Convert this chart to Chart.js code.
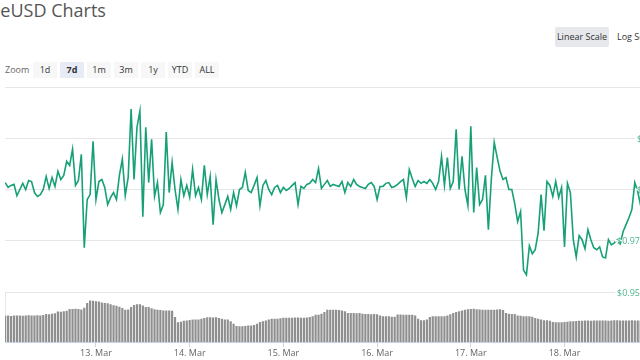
<!DOCTYPE html>
<html lang="en">
<head>
<meta charset="UTF-8">
<title>TrueUSD Charts</title>
<script src="https://cdn.jsdelivr.net/npm/chart.js"></script>
<style>
    body { margin: 0; width: 640px; height: 360px; overflow: hidden; background: #fff; position: relative; font-family: "Open Sans", sans-serif; }
    h1 { position: absolute; left: -28px; top: 1px; margin: 0; font-size: 18px; line-height: 18px; font-weight: 400; color: #555; white-space: nowrap; }
    .scale { position: absolute; top: 27px; height: 20px; line-height: 20px; font-size: 9px; color: #333; white-space: nowrap; }
    #lin { left: 555px; width: 54px; background: #e6e8ec; text-align: center; border-radius: 2px; }
    #log { left: 617px; }
    #zoomLabel { position: absolute; left: 5px; top: 62px; height: 16px; line-height: 16px; font-size: 9px; color: #666; }
    .btn { position: absolute; top: 62px; width: 24px; height: 16px; line-height: 16px; font-size: 9px; color: #333; background: #f7f7f7; text-align: center; }
    .btn.on { background: #e6ebf5; font-weight: 700; }
    #price { position: absolute; left: 0; top: 80px; }
    #vol { position: absolute; left: 0; top: 285px; }
</style>
</head>
<body>
    <h1>TrueUSD Charts</h1>
    <div class="scale" id="lin">Linear Scale</div>
    <div class="scale" id="log">Log Scale</div>
    <div id="zoomLabel">Zoom</div>
    <div id="buttons"></div>
    <canvas id="price" width="700" height="222"></canvas>
    <canvas id="vol" width="700" height="75"></canvas>

<script>
// hours since 13 Mar 00:00, one sample every 45 minutes
const startHour = -23.25;
const stepHours = 0.75;

const priceValues = [
    0.9927, 0.9908, 0.9916, 0.9920, 0.9876, 0.9900, 0.9924, 0.9900, 0.9935, 0.9931,
    0.9888, 0.9873, 0.9880, 0.9900, 0.9951, 0.9904, 0.9947, 0.9912, 0.9971, 0.9939,
    0.9955, 1.0010, 0.9994, 1.0057, 0.9916, 0.9935, 1.0037, 0.9673, 0.9861, 0.9880,
    1.0088, 0.9861, 0.9931, 0.9939, 0.9908, 0.9841, 0.9869, 0.9888, 0.9861, 0.9955,
    1.0018, 0.9876, 0.9947, 1.0214, 0.9939, 1.0143, 1.0206, 0.9794, 1.0143, 0.9927,
    1.0096, 0.9873, 0.9927, 0.9810, 0.9841, 1.0124, 0.9888, 1.0006, 0.9900, 0.9822,
    0.9939, 0.9876, 0.9916, 0.9869, 0.9978, 0.9876, 0.9908, 0.9861, 0.9994, 0.9880,
    0.9951, 0.9763, 0.9939, 0.9861, 0.9810, 0.9841, 0.9873, 0.9822, 0.9888, 0.9837,
    0.9900, 0.9908, 0.9967, 0.9896, 0.9888, 0.9916, 0.9947, 0.9837, 0.9916, 0.9935,
    0.9900, 0.9880, 0.9908, 0.9916, 0.9888, 0.9908, 0.9896, 0.9904, 0.9916, 0.9927,
    0.9841, 0.9912, 0.9904, 0.9920, 0.9924, 0.9939, 0.9927, 0.9982, 0.9904, 0.9920,
    0.9935, 0.9912, 0.9920, 0.9916, 0.9912, 0.9931, 0.9888, 0.9927, 0.9912, 0.9939,
    0.9920, 0.9912, 0.9908, 0.9904, 0.9920, 0.9927, 0.9912, 0.9861, 0.9912, 0.9912,
    0.9924, 0.9927, 0.9908, 0.9912, 0.9920, 0.9931, 0.9939, 0.9869, 0.9978, 0.9943,
    0.9912, 0.9935, 0.9924, 0.9931, 0.9924, 0.9939, 0.9924, 0.9900, 0.9931, 1.0029,
    0.9916, 1.0025, 0.9904, 0.9931, 1.0135, 0.9900, 1.0029, 0.9900, 0.9837, 1.0147,
    0.9810, 0.9986, 0.9841, 0.9861, 0.9955, 0.9743, 0.9939, 1.0084, 1.0025, 0.9971,
    0.9939, 0.9947, 0.9900, 0.9900, 0.9845, 0.9775, 0.9814, 0.9586, 0.9567, 0.9680,
    0.9649, 0.9665, 0.9731, 0.9880, 0.9739, 0.9931, 0.9916, 0.9873, 0.9931, 0.9869,
    0.9908, 0.9676, 0.9924, 0.9888, 0.9704, 0.9637, 0.9720, 0.9704, 0.9669, 0.9743,
    0.9704, 0.9673, 0.9665, 0.9676, 0.9637, 0.9633, 0.9704, 0.9684, 0.9692, 0.9704,
    0.9688, 0.9735, 0.9763, 0.9790, 0.9822, 0.9927, 0.9892, 0.9837, 0.9908, 0.9900
];

// volume, millions USD
const volumeValues = [
    31.5, 31.8, 31.2, 31.8, 32, 31.8, 31.5, 32, 32.2, 31.8, 32, 32.3, 32, 32.5,
    33.8, 33.5, 34, 34.5,
    36.8, 36.5, 37, 37.5,
    39.6, 39.6, 40, 39.8, 39,
    41.2, 47,
    49.8, 49.5, 49, 48.5,
    47.4, 47, 46.5, 45.5,
    44.1, 43.5, 42.5, 41,
    38.8, 39, 42, 44.5,
    45.5, 45.5, 44, 42,
    42, 40.5, 39.5, 38.8, 38.5, 38,
    38, 38, 37.5, 30, 23.9,
    24.5, 25.5, 26, 26.5, 27, 27.1, 27.1,
    28, 29, 29.8, 29.8,
    29.5, 29.8, 29,
    28, 27.1, 27.1,
    25, 22, 19.5, 19.2,
    19.2, 19.5, 20, 20,
    20.5, 22, 24, 25.1,
    26, 27, 27.9, 27.9,
    27.9, 28.5, 29.1, 29.1,
    29.1, 29.1, 29.5, 29.5, 29.1, 29.1, 29.5, 30, 31,
    32.9, 32.9, 34, 36,
    38.8, 38.8, 38.8,
    38.8, 38.5, 38, 37,
    35, 34.9, 34.9, 34.5,
    34.9, 34, 33.8, 33.8, 33.5,
    33.8, 33.5, 32, 31, 30.9,
    30.9, 30.5, 30.5, 33, 33, 32.9,
    32.9, 32.9, 32.9, 32,
    28, 26.2,
    26.2, 27, 30,
    30.9, 30.9, 30.9, 30.9, 31, 32,
    33.5, 34.9, 36, 37,
    38, 38.8, 39.5,
    39.8, 40, 39.5, 39, 38.8, 38.8, 38.8, 38.8, 38.8, 39, 39.5, 38.5,
    35, 34, 33.8, 33.8,
    32, 31.5, 30.9, 30.9, 30.9, 30.5,
    29, 28, 27, 26.2, 26.2, 25.5,
    24, 23.9, 23.9, 23.9, 24, 24.5, 25,
    25.1, 25.3, 25.5, 25.5, 25.9, 25.9, 25.7, 25.9, 25.9, 26, 25.9, 25.9, 25.5,
    25.9, 26.2, 26.2, 26, 25.9, 25.9, 25.9, 26.2, 26, 25.9, 25.9, 26, 26.2
];

const dayTicks = [0, 24, 48, 72, 96, 120];
const dayLabels = ['13. Mar', '14. Mar', '15. Mar', '16. Mar', '17. Mar', '18. Mar'];
const priceTicks = [0.95, 0.97, 0.99, 1.01, 1.03];
const labelledTicks = [0.95, 0.97, 0.99, 1.01];
const zoomButtons = ['1d', '7d', '1m', '3m', '1y', 'YTD', 'ALL'];
const activeZoom = '7d';

// visible window
const xMin = -23.3;
const xMax = 154.7;
const yMin = 0.95;
const yMax = 1.03;
const volMax = 60;

// zoom buttons
const btnBox = document.getElementById('buttons');
zoomButtons.forEach((b, i) => {
    const d = document.createElement('div');
    d.className = 'btn' + (b === activeZoom ? ' on' : '');
    d.style.left = (33 + i * 27) + 'px';
    d.textContent = b;
    btnBox.appendChild(d);
});

const hours = priceValues.map((v, i) => startHour + i * stepHours);
const pricePoints = priceValues.map((v, i) => ({ x: hours[i], y: v }));
const volumePoints = volumeValues.map((v, i) => ({ x: startHour + i * stepHours, y: v }));

// y labels drawn over the plot at the right, like the original
const priceLabels = {
    id: 'priceLabels',
    afterDatasetsDraw(chart) {
        const y = chart.scales.y;
        const ctx = chart.ctx;
        ctx.save();
        ctx.font = '9px "Open Sans"';
        ctx.textBaseline = 'middle';
        labelledTicks.forEach(v => {
            const py = y.getPixelForValue(v);
            const px = v < 0.98 ? chart.chartArea.right - 83 : chart.chartArea.right - 63;
            const w = ctx.measureText('$' + v.toFixed(2)).width;
            ctx.fillStyle = '#fff';
            ctx.fillRect(px - 2, py - 1, w + 4, 2);
            ctx.fillStyle = '#4fb58d';
            ctx.fillText('$' + v.toFixed(2), px, py + 1);
        });
        ctx.restore();
    }
};

new Chart(document.getElementById('price'), {
    type: 'line',
    data: {
        datasets: [{
            data: pricePoints,
            borderColor: '#17a077',
            borderWidth: 1.6,
            pointRadius: 0,
            tension: 0,
            fill: false
        }]
    },
    options: {
        responsive: false,
        animation: false,
        layout: { padding: { left: 5, right: 0, top: 7, bottom: 10 } },
        plugins: { legend: { display: false }, tooltip: { enabled: false } },
        scales: {
            x: { type: 'linear', min: xMin, max: xMax, display: false },
            y: {
                position: 'right',
                min: yMin,
                max: yMax,
                afterBuildTicks: s => { s.ticks = priceTicks.map(v => ({ value: v })); },
                afterFit: s => { s.width = 0; },
                ticks: { display: false },
                grid: { color: '#e6e6e6', drawTicks: false },
                border: { display: false }
            }
        }
    },
    plugins: [priceLabels]
});

new Chart(document.getElementById('vol'), {
    type: 'bar',
    data: {
        datasets: [{
            data: volumePoints,
            backgroundColor: '#8f8f8f',
            barPercentage: 0.75,
            categoryPercentage: 1.0
        }]
    },
    options: {
        responsive: false,
        animation: false,
        layout: { padding: { left: 5, right: 0, top: 7, bottom: 0 } },
        plugins: { legend: { display: false }, tooltip: { enabled: false } },
        scales: {
            x: {
                type: 'linear',
                offset: false,
                min: xMin,
                max: xMax,
                afterBuildTicks: s => { s.ticks = dayTicks.map(v => ({ value: v })); },
                ticks: {
                    callback: v => dayLabels[dayTicks.indexOf(v)],
                    font: { family: 'Open Sans', size: 9 },
                    color: '#666',
                    padding: 1,
                    maxRotation: 0,
                    autoSkip: false
                },
                grid: { offset: false, drawOnChartArea: false, drawTicks: true, tickLength: 5, color: '#ccd6eb' },
                border: { display: true, color: '#ccd6eb' }
            },
            y: {
                min: 0,
                max: volMax,
                afterFit: s => { s.width = 0; },
                ticks: { display: false },
                grid: { display: false, drawTicks: false },
                border: { display: true, color: '#e6e6e6' }
            }
        }
    }
});
</script>
</body>
</html>
